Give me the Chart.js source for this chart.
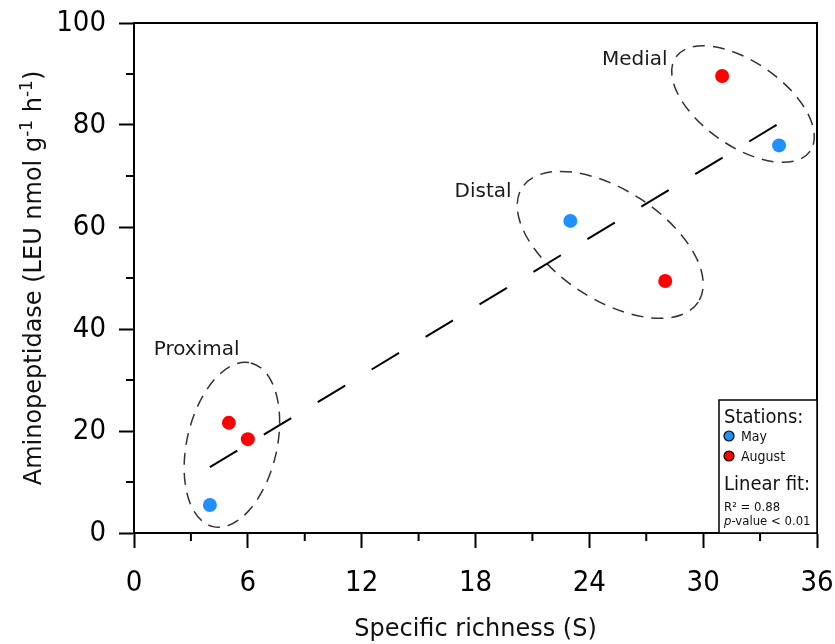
<!DOCTYPE html>
<html>
<head>
<meta charset="utf-8">
<script src="https://cdn.jsdelivr.net/npm/chart.js@4.4.1/dist/chart.umd.min.js"></script>
<style>
  html, body { margin: 0; padding: 0; background: #fff; }
  #wrap { width: 835px; height: 644px; }
</style>
</head>
<body>
<div id="wrap"><canvas id="richnessChart" width="835" height="644"></canvas></div>
<script>
// values
const mayX = [4, 23, 34];
const mayY = [5.5, 61.2, 76];
const augustX = [5, 6, 28, 31];
const augustY = [21.6, 18.4, 49.4, 89.6];
const fitX = [4, 34];
const fitY = [12.9, 80.3];
const xTicks = [0, 6, 12, 18, 24, 30, 36];
const yTicks = [0, 20, 40, 60, 80, 100];

const COND = "'DejaVu Sans Condensed', 'DejaVu Sans', sans-serif";
const SANS = "'DejaVu Sans', Verdana, sans-serif";

const toPoints = (xs, ys) => xs.map((x, i) => ({ x: x, y: ys[i] }));

// groups of stations (ellipses drawn in px around a data-space centre)
const groups = [
  { name: "Proximal", cx: 5.16, cy: 17.3, rx: 84, ry: 45, rot: -77, lx: 3.3, ly: 35.9 },
  { name: "Distal", cx: 25.1, cy: 56.5, rx: 105, ry: 55, rot: 33, lx: 18.4, ly: 66.9 },
  { name: "Medial", cx: 32.1, cy: 84.1, rx: 82, ry: 42, rot: 35, lx: 26.4, ly: 92.7 },
];

const groupsPlugin = {
  id: "groups",
  beforeDatasetsDraw(chart) {
    const { ctx, scales } = chart;
    ctx.save();
    ctx.strokeStyle = "#333";
    ctx.lineWidth = 1.5;
    ctx.setLineDash([12, 8]);
    groups.forEach((g) => {
      const px = scales.x.getPixelForValue(g.cx);
      const py = scales.y.getPixelForValue(g.cy);
      ctx.beginPath();
      ctx.ellipse(px, py, g.rx, g.ry, (g.rot * Math.PI) / 180, 0, Math.PI * 2);
      ctx.stroke();
    });
    ctx.setLineDash([]);
    ctx.fillStyle = "#1a1a1a";
    ctx.font = "20px " + SANS;
    ctx.textAlign = "center";
    ctx.textBaseline = "middle";
    groups.forEach((g) => {
      ctx.fillText(g.name, scales.x.getPixelForValue(g.lx), scales.y.getPixelForValue(g.ly));
    });
    ctx.restore();
  },
};

// frame, minor ticks, y title with superscripts, legend box
const framePlugin = {
  id: "frame",
  afterDraw(chart) {
    const { ctx, chartArea: a, scales } = chart;
    ctx.save();
    ctx.strokeStyle = "#000";
    ctx.lineWidth = 2;
    ctx.beginPath();
    ctx.moveTo(a.left, a.top);
    ctx.lineTo(a.right, a.top);
    ctx.lineTo(a.right, a.bottom);
    ctx.stroke();

    // minor ticks
    ctx.beginPath();
    for (let i = 0; i < xTicks.length - 1; i++) {
      const px = scales.x.getPixelForValue((xTicks[i] + xTicks[i + 1]) / 2);
      ctx.moveTo(px, a.bottom);
      ctx.lineTo(px, a.bottom + 8);
    }
    for (let i = 0; i < yTicks.length - 1; i++) {
      const py = scales.y.getPixelForValue((yTicks[i] + yTicks[i + 1]) / 2);
      ctx.moveTo(a.left, py);
      ctx.lineTo(a.left - 8, py);
    }
    ctx.stroke();

    // y axis title
    const parts = [
      ["Aminopeptidase (LEU nmol g", false],
      ["-1", true],
      [" h", false],
      ["-1", true],
      [")", false],
    ];
    const big = "24px " + SANS;
    const small = "17px " + SANS;
    let total = 0;
    parts.forEach(([t, sup]) => {
      ctx.font = sup ? small : big;
      total += ctx.measureText(t).width;
    });
    ctx.translate(32, (a.top + a.bottom) / 2);
    ctx.rotate(-Math.PI / 2);
    ctx.fillStyle = "#111";
    ctx.textBaseline = "alphabetic";
    ctx.textAlign = "left";
    let cur = -total / 2;
    parts.forEach(([t, sup]) => {
      ctx.font = sup ? small : big;
      ctx.fillText(t, cur, sup ? 0 : 9);
      cur += ctx.measureText(t).width;
    });
    ctx.restore();

    // legend box
    ctx.save();
    const bw = 98, bh = 133;
    const bx = a.right - bw, by = a.bottom - bh;
    ctx.fillStyle = "#fff";
    ctx.fillRect(bx, by, bw, bh);
    ctx.strokeStyle = "#000";
    ctx.lineWidth = 1.5;
    ctx.strokeRect(bx, by, bw, bh);
    ctx.fillStyle = "#111";
    ctx.textAlign = "left";
    ctx.textBaseline = "alphabetic";
    ctx.font = "20px " + COND;
    ctx.fillText("Stations:", bx + 5, by + 23);
    const entries = [["May", "#1e90ff"], ["August", "#ff0000"]];
    entries.forEach(([name, col], i) => {
      const cy = by + 36 + i * 20;
      ctx.beginPath();
      ctx.arc(bx + 10, cy, 5, 0, Math.PI * 2);
      ctx.fillStyle = col;
      ctx.fill();
      ctx.lineWidth = 1.2;
      ctx.strokeStyle = "#000";
      ctx.stroke();
      ctx.fillStyle = "#111";
      ctx.font = "14px " + COND;
      ctx.fillText(name, bx + 22, cy + 5);
    });
    ctx.font = "20px " + COND;
    ctx.fillText("Linear fit:", bx + 5, by + 90);
    ctx.font = "13px " + COND;
    ctx.fillText("R\u00b2 = 0.88", bx + 5, by + 111);
    ctx.font = "italic 13px " + COND;
    ctx.fillText("p", bx + 5, by + 125);
    const pw = ctx.measureText("p").width;
    ctx.font = "13px " + COND;
    ctx.fillText("-value < 0.01", bx + 5 + pw, by + 125);
    ctx.restore();
  },
};

const ctx = document.getElementById("richnessChart").getContext("2d");

new Chart(ctx, {
  type: "scatter",
  data: {
    datasets: [
      {
        label: "Linear fit",
        type: "line",
        data: toPoints(fitX, fitY),
        borderColor: "#000",
        borderWidth: 2,
        borderDash: [32, 31],
        pointRadius: 0,
        fill: false,
        order: 3,
      },
      {
        label: "May",
        data: toPoints(mayX, mayY),
        backgroundColor: "#1e90ff",
        borderWidth: 0,
        pointRadius: 7,
        order: 1,
      },
      {
        label: "August",
        data: toPoints(augustX, augustY),
        backgroundColor: "#ff0000",
        borderWidth: 0,
        pointRadius: 7,
        order: 2,
      },
    ],
  },
  options: {
    responsive: false,
    animation: false,
    clip: false,
    layout: { padding: { left: 0, right: 18, top: 23, bottom: 0 } },
    plugins: {
      legend: { display: false },
      tooltip: { enabled: false },
    },
    scales: {
      x: {
        type: "linear",
        min: 0,
        max: 36,
        afterBuildTicks: (scale) => {
          scale.ticks = xTicks.map((v) => ({ value: v }));
        },
        afterFit: (scale) => {
          scale.height = 111;
          scale.paddingLeft = 0;
          scale.paddingRight = 0;
        },
        ticks: {
          color: "#000",
          font: { family: COND, size: 29 },
          padding: 18,
          maxRotation: 0,
        },
        grid: {
          drawOnChartArea: false,
          tickLength: 15,
          tickWidth: 2,
          tickColor: "#000",
        },
        border: { color: "#000", width: 2 },
        title: {
          display: true,
          text: "Specific richness (S)",
          color: "#111",
          font: { family: SANS, size: 24 },
          padding: { top: 0, bottom: 0 },
        },
      },
      y: {
        type: "linear",
        min: 0,
        max: 100,
        afterBuildTicks: (scale) => {
          scale.ticks = yTicks.map((v) => ({ value: v }));
        },
        afterFit: (scale) => {
          scale.width = 134;
          scale.paddingTop = 0;
          scale.paddingBottom = 0;
        },
        ticks: {
          color: "#000",
          font: { family: COND, size: 29 },
          padding: 13,
        },
        grid: {
          drawOnChartArea: false,
          tickLength: 15,
          tickWidth: 2,
          tickColor: "#000",
        },
        border: { color: "#000", width: 2 },
      },
    },
  },
  plugins: [groupsPlugin, framePlugin],
});
</script>
</body>
</html>
